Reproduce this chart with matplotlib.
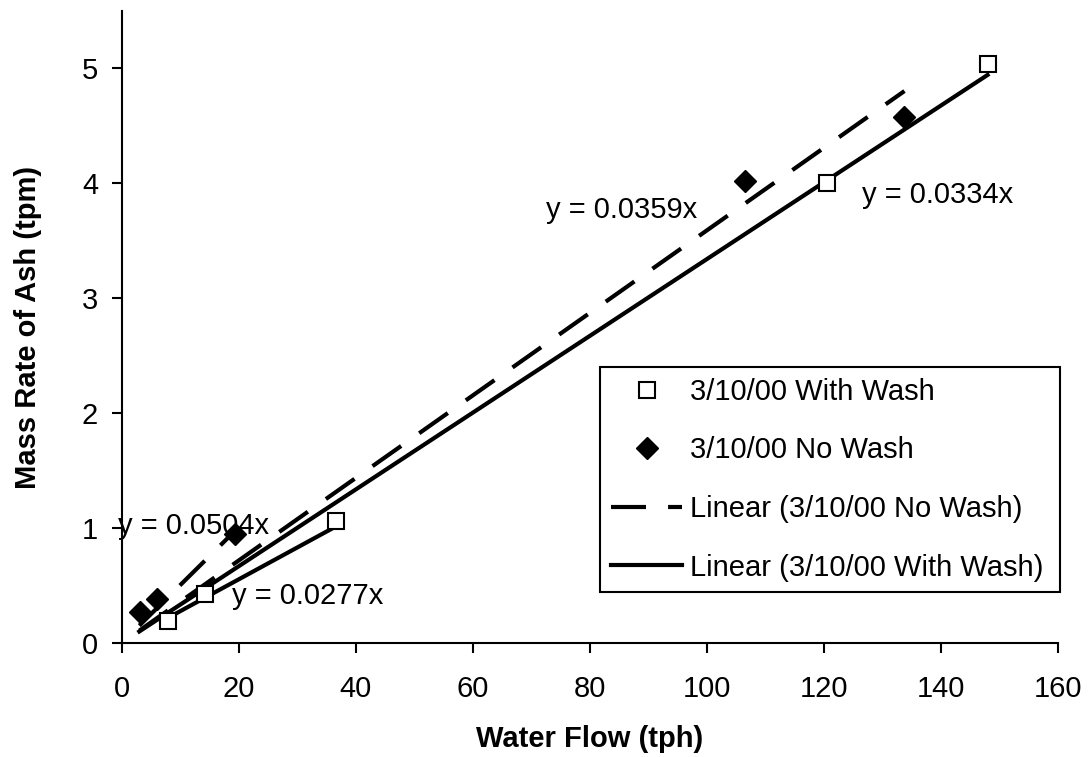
import matplotlib
matplotlib.use("Agg")
import matplotlib.pyplot as plt
import numpy as np

plt.rcParams['font.family'] = ['Liberation Sans', 'DejaVu Sans']

# water flow (tph) vs mass rate of ash (tpm)
wash_x = [7.9, 14.2, 36.6, 120.5, 148.0]
wash_y = [0.19, 0.43, 1.06, 4.00, 5.04]
nowash_x = [3.1, 6.0, 19.4, 106.5, 133.8]
nowash_y = [0.27, 0.38, 0.95, 4.02, 4.58]

# through-origin fits and the x span each one covers
fit_nowash = 0.0359
fit_wash = 0.0334
fit_nowash_low = 0.0504
fit_wash_low = 0.0277
span_nowash = [3.0, 133.8]
span_wash = [3.0, 148.0]
span_nowash_low = [3.0, 19.4]
span_wash_low = [7.9, 36.6]

fig = plt.figure(figsize=(10.88, 7.57), dpi=100)
ax = fig.add_axes([0.1119, 0.1506, 0.8603, 0.8349])

ax.plot(wash_x, wash_y, 's', ms=12, mfc='white', mec='black', mew=1.5,
        label='3/10/00 With Wash', zorder=4)
ax.plot(nowash_x, nowash_y, 'D', ms=11, mfc='black', mec='black',
        label='3/10/00 No Wash', zorder=4)

dash = (8.4, 5.3)
xs = np.array(span_nowash)
ax.plot(xs, fit_nowash * xs, color='black', lw=3, dashes=dash,
        label='Linear (3/10/00 No Wash)')
xs = np.array(span_wash)
ax.plot(xs, fit_wash * xs, color='black', lw=3,
        label='Linear (3/10/00 With Wash)')
xs = np.array(span_nowash_low)
ax.plot(xs, fit_nowash_low * xs, color='black', lw=3, dashes=dash)
xs = np.array(span_wash_low)
ax.plot(xs, fit_wash_low * xs, color='black', lw=3)

fs = 21
ax.text(72.5, 3.77, 'y = 0.0359x', fontsize=fs, va='center')
ax.text(126.5, 3.9, 'y = 0.0334x', fontsize=fs, va='center')
ax.text(-0.7, 1.02, 'y = 0.0504x', fontsize=fs, va='center')
ax.text(18.8, 0.41, 'y = 0.0277x', fontsize=fs, va='center')

ax.set_xlim(0, 160)
ax.set_ylim(0, 5.5)
ax.set_xticks(range(0, 161, 20))
ax.set_yticks(range(0, 6))
ax.tick_params(direction='out', length=7, width=1.5, labelsize=fs)
ax.tick_params(axis='x', pad=16)
ax.tick_params(axis='y', pad=10)
for side in ['top', 'right']:
    ax.spines[side].set_visible(False)
for side in ['left', 'bottom']:
    ax.spines[side].set_linewidth(1.5)

ax.set_xlabel('Water Flow (tph)', fontsize=fs, fontweight='bold')
ax.set_ylabel('Mass Rate of Ash (tpm)', fontsize=fs, fontweight='bold')
ax.xaxis.set_label_coords(0.5, -0.13)
ax.yaxis.set_label_coords(-0.085, 0.5)

leg = ax.legend(loc='upper left', bbox_to_anchor=(0.511, 0.0744, 0.4915, 0.3623),
                mode='expand', fontsize=fs, frameon=True, fancybox=False,
                framealpha=1, edgecolor='black', handlelength=2.45,
                handletextpad=0.28, labelspacing=1.05, borderpad=0.37,
                borderaxespad=0)
leg.get_frame().set_linewidth(1.5)
leg.set_zorder(10)

fig.savefig('out.png', dpi=100)
